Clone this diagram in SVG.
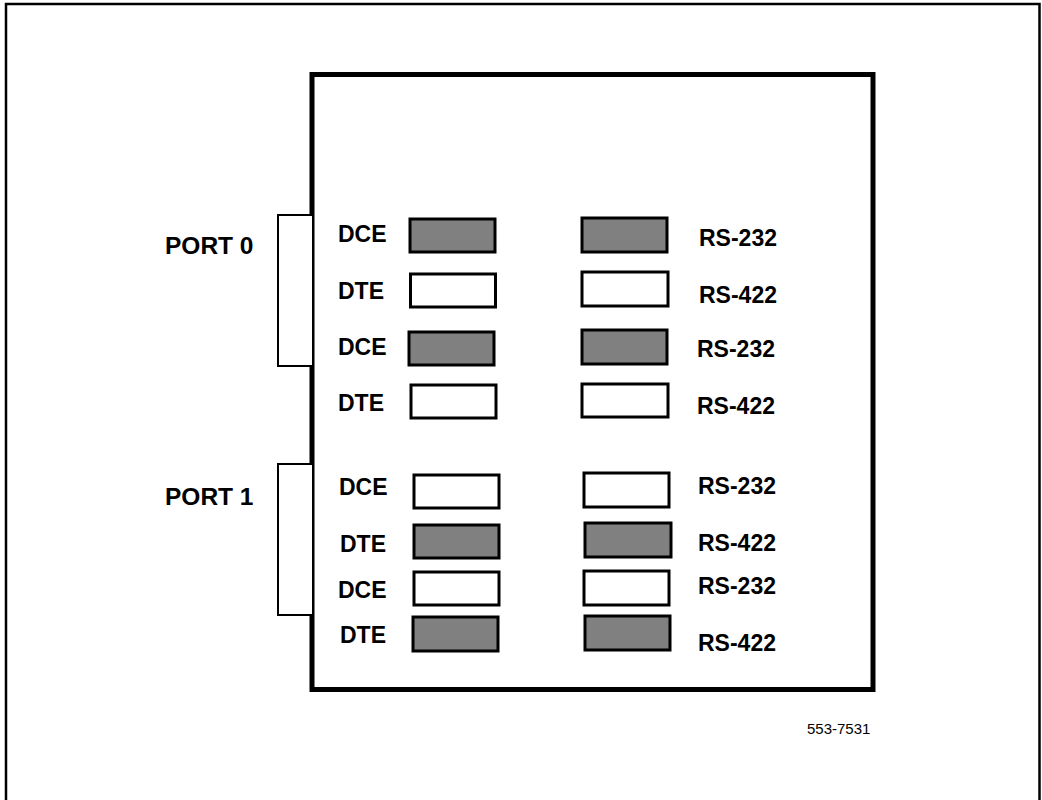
<svg xmlns="http://www.w3.org/2000/svg" width="1042" height="800" viewBox="0 0 1042 800">
<style>
.lbl{font-family:"Liberation Sans",Arial,sans-serif;font-weight:bold;font-size:23px;fill:#000}
.port{font-size:24.5px}
.id{font-family:"Liberation Sans",Arial,sans-serif;font-size:15px;fill:#000}
.sw{stroke:#000;stroke-width:3}
.on{fill:#808080}
.off{fill:#fff}
.br{fill:#fff;stroke:#000;stroke-width:2}
</style>
<rect width="1042" height="800" fill="#fff"/>
<path d="M6,800 V4 H1039.5 V800" fill="none" stroke="#000" stroke-width="2.5"/>
<g id="board">
<rect x="312" y="74.5" width="561" height="615" fill="#fff" stroke="#000" stroke-width="5"/>
</g>
<g id="port0">
<path class="br" d="M312,215 H278 V366 H312"/>
<text class="lbl port" x="165" y="254">PORT 0</text>
</g>
<g id="port1">
<path class="br" d="M312,464 H278 V615 H312"/>
<text class="lbl port" x="165" y="505">PORT 1</text>
</g>
<g id="row1">
<text class="lbl" x="338" y="242">DCE</text>
<rect class="sw on" x="410" y="219" width="85" height="33"/>
<rect class="sw on" x="582" y="218" width="85" height="34"/>
<text class="lbl" x="699" y="246">RS-232</text>
</g>
<g id="row2">
<text class="lbl" x="338" y="299">DTE</text>
<rect class="sw off" x="410.5" y="274" width="85" height="33"/>
<rect class="sw off" x="582" y="272" width="86" height="34"/>
<text class="lbl" x="699" y="303">RS-422</text>
</g>
<g id="row3">
<text class="lbl" x="338" y="355">DCE</text>
<rect class="sw on" x="409" y="332" width="85" height="33"/>
<rect class="sw on" x="582" y="330" width="85" height="34"/>
<text class="lbl" x="697" y="357">RS-232</text>
</g>
<g id="row4">
<text class="lbl" x="338" y="411">DTE</text>
<rect class="sw off" x="411" y="385" width="85" height="33"/>
<rect class="sw off" x="582" y="384" width="86" height="33"/>
<text class="lbl" x="697" y="414">RS-422</text>
</g>
<g id="row5">
<text class="lbl" x="339" y="495">DCE</text>
<rect class="sw off" x="414" y="475" width="85" height="33"/>
<rect class="sw off" x="584" y="473" width="85" height="34"/>
<text class="lbl" x="698" y="494">RS-232</text>
</g>
<g id="row6">
<text class="lbl" x="340" y="552">DTE</text>
<rect class="sw on" x="414" y="525" width="85" height="33"/>
<rect class="sw on" x="585" y="523" width="86" height="34"/>
<text class="lbl" x="698" y="551">RS-422</text>
</g>
<g id="row7">
<text class="lbl" x="338" y="598">DCE</text>
<rect class="sw off" x="414" y="572" width="85" height="33"/>
<rect class="sw off" x="584" y="571" width="85" height="34"/>
<text class="lbl" x="698" y="594">RS-232</text>
</g>
<g id="row8">
<text class="lbl" x="340" y="643">DTE</text>
<rect class="sw on" x="413" y="617" width="85" height="34"/>
<rect class="sw on" x="585" y="616" width="85" height="34"/>
<text class="lbl" x="698" y="651">RS-422</text>
</g>
<g id="connectors"></g>
<text class="id" x="807" y="734">553-7531</text>
</svg>
